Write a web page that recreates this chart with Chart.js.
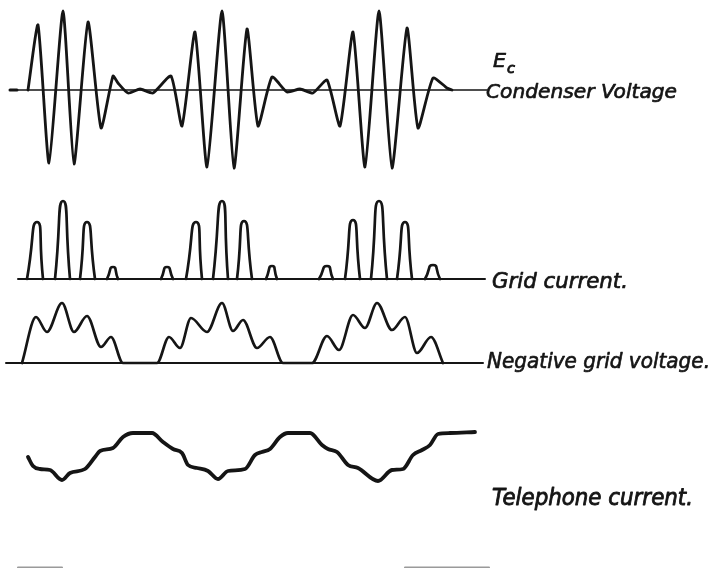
<!DOCTYPE html>
<html>
<head>
<meta charset="utf-8">
<script src="https://cdn.jsdelivr.net/npm/chart.js@4/dist/chart.umd.min.js"></script>
<style>
  html, body { margin: 0; padding: 0; background: #fff; }
  #wrap { width: 712px; height: 568px; }
</style>
</head>
<body>
<div id="wrap"><canvas id="c" width="712" height="568"></canvas></div>
<script>
// ---- Data: time samples and amplitudes (amplitude measured upward from each trace's zero line) ----

// Condenser voltage E_c: three wave trains
const condenserT = [28, 38, 49, 63, 74, 88, 101, 113, 118, 128, 140, 153, 171, 182, 195, 207, 222, 234, 247, 258,
                    272, 287, 300, 313, 327, 340, 353, 365, 379, 392, 407, 418, 433, 447, 452];
const condenserV = [0, 65, -73, 79, -74, 68, -38, 14, 7, -3, 1, -3, 14, -36, 58, -77, 79, -78, 61, -36,
                    13, -2, 1, -3, 10, -36, 58, -77, 79, -78, 62, -38, 12, 2, 0];

// Grid current: one pulse per positive half-cycle (start, crest, end, crest height)
const gridStart = [27, 55, 80, 107, 161, 186, 213, 237, 266, 319, 345, 371, 397, 425];
const gridCrest = [37, 63, 87, 113, 167, 196, 222, 244, 272, 327, 353, 379, 405, 433];
const gridEnd   = [43, 70, 95, 118, 173, 202, 228, 252, 277, 333, 360, 387, 412, 440];
const gridPeak  = [57, 78, 57, 12, 12, 57, 78, 58, 13, 13, 59, 78, 57, 14];

// Negative grid voltage
const negGridT = [22, 36, 47, 62, 74, 87, 101, 111, 123, 157, 169, 180, 191, 207, 222, 233, 243, 257, 270, 283,
                  312, 327, 339, 353, 365, 377, 392, 405, 417, 431, 443];
const negGridV = [0, 46, 31, 60, 31, 47, 16, 26, 0, 0, 26, 15, 45, 31, 60, 32, 43, 15, 26, 0,
                  0, 27, 13, 48, 35, 60, 33, 46, 10, 26, 0];

// Telephone current
const phoneT = [28, 33, 40, 50, 62, 70, 85, 95, 100, 113, 123, 133, 152, 163, 173, 182, 188, 197, 208, 218,
                228, 245, 255, 262, 270, 280, 288, 310, 322, 328, 337, 348, 358, 378, 392, 403, 413, 422, 430, 438,
                450, 475];
const phoneV = [0, -9, -12, -13, -23, -16, -12, 0, 6, 9, 20, 24, 24, 15, 8, 4, -8, -11, -14, -22,
                -14, -12, 2, 5, 8, 20, 24, 24, 12, 8, 5, -8, -11, -24, -13, -12, 2, 7, 12, 23,
                24, 25];

// Zero-line extents (time) of the first three traces
const condenserAxis = [10, 487];
const gridAxis      = [18, 485];
const negGridAxis   = [6, 483];

// Edge of the next figure, just visible along the bottom
const nextFigureEdges = [[18, 62], [405, 489]];

// ---- Layout and style ----
const INK = '#151515';
const ZERO = { condenser: 90, grid: 279, negGrid: 363, phone: 457, bottom: 567.5 };   // vertical placement

const toPoints = (T, V, zero) => T.map((t, i) => ({ x: t, y: zero - V[i] }));

function pulsePoints(zero) {
  const pts = [];
  gridStart.forEach((s, i) => {
    pts.push({ x: s, y: zero }, { x: gridCrest[i], y: zero - gridPeak[i] }, { x: gridEnd[i], y: zero });
    pts.push({ x: gridEnd[i], y: null });   // break between pulses
  });
  return pts;
}

const axisLine = (span, zero, width, color) => ({
  data: [{ x: span[0], y: zero }, { x: span[1], y: zero }],
  borderColor: color || INK, borderWidth: width, tension: 0
});

const datasets = [
  axisLine(condenserAxis, ZERO.condenser, 1.4),
  axisLine([condenserAxis[0], condenserAxis[0] + 7], ZERO.condenser, 3),
  axisLine(gridAxis, ZERO.grid, 2),
  axisLine(negGridAxis, ZERO.negGrid, 2),
  ...nextFigureEdges.map(span => axisLine(span, ZERO.bottom, 2, '#9a9a9a')),
  { data: toPoints(condenserT, condenserV, ZERO.condenser), borderColor: INK, borderWidth: 2.8, tension: 0.18 },
  { data: pulsePoints(ZERO.grid), borderColor: INK, borderWidth: 2.7, tension: 0.75, spanGaps: false },
  { data: toPoints(negGridT, negGridV, ZERO.negGrid), borderColor: INK, borderWidth: 2.7, cubicInterpolationMode: 'monotone' },
  { data: toPoints(phoneT, phoneV, ZERO.phone), borderColor: INK, borderWidth: 3.8, cubicInterpolationMode: 'monotone' }
];

// Hand-lettered captions, placed in scale units
const LABELS = [
  { text: 'E',                       t: 493, y: 67,  size: 20, width: 13,  stroke: 0.7 },
  { text: 'c',                       t: 507, y: 73,  size: 14, width: 8,   stroke: 0.9 },
  { text: 'Condenser Voltage',       t: 486, y: 98,  size: 20, width: 191, stroke: 0.7 },
  { text: 'Grid current.',           t: 492, y: 288, size: 21, width: 136, stroke: 0.7 },
  { text: 'Negative grid voltage.',  t: 487, y: 368, size: 22, width: 223, stroke: 0.7 },
  { text: 'Telephone current.',      t: 492, y: 505, size: 23, width: 201, stroke: 0.9 }
];

const captionPlugin = {
  id: 'captions',
  afterDatasetsDraw(chart) {
    const { ctx, scales: { x, y } } = chart;
    LABELS.forEach(l => {
      ctx.save();
      ctx.font = `italic ${l.size}px "DejaVu Sans"`;
      const w = ctx.measureText(l.text).width;
      ctx.translate(x.getPixelForValue(l.t), y.getPixelForValue(l.y));
      ctx.scale(l.width / w, 1);
      ctx.fillStyle = INK;
      ctx.strokeStyle = INK;
      ctx.lineWidth = l.stroke;
      ctx.lineJoin = 'round';
      ctx.textBaseline = 'alphabetic';
      ctx.fillText(l.text, 0, 0);
      ctx.strokeText(l.text, 0, 0);
      ctx.restore();
    });
  }
};

new Chart(document.getElementById('c'), {
  type: 'line',
  data: { datasets },
  options: {
    responsive: false,
    animation: false,
    events: [],
    layout: { padding: 0 },
    scales: {
      x: { type: 'linear', min: 0, max: 712, display: false },
      y: { type: 'linear', min: 0, max: 568, reverse: true, display: false }
    },
    elements: {
      point: { radius: 0 },
      line: { borderCapStyle: 'round', borderJoinStyle: 'round', fill: false }
    },
    plugins: { legend: { display: false }, tooltip: { enabled: false } }
  },
  plugins: [captionPlugin]
});
</script>
</body>
</html>
